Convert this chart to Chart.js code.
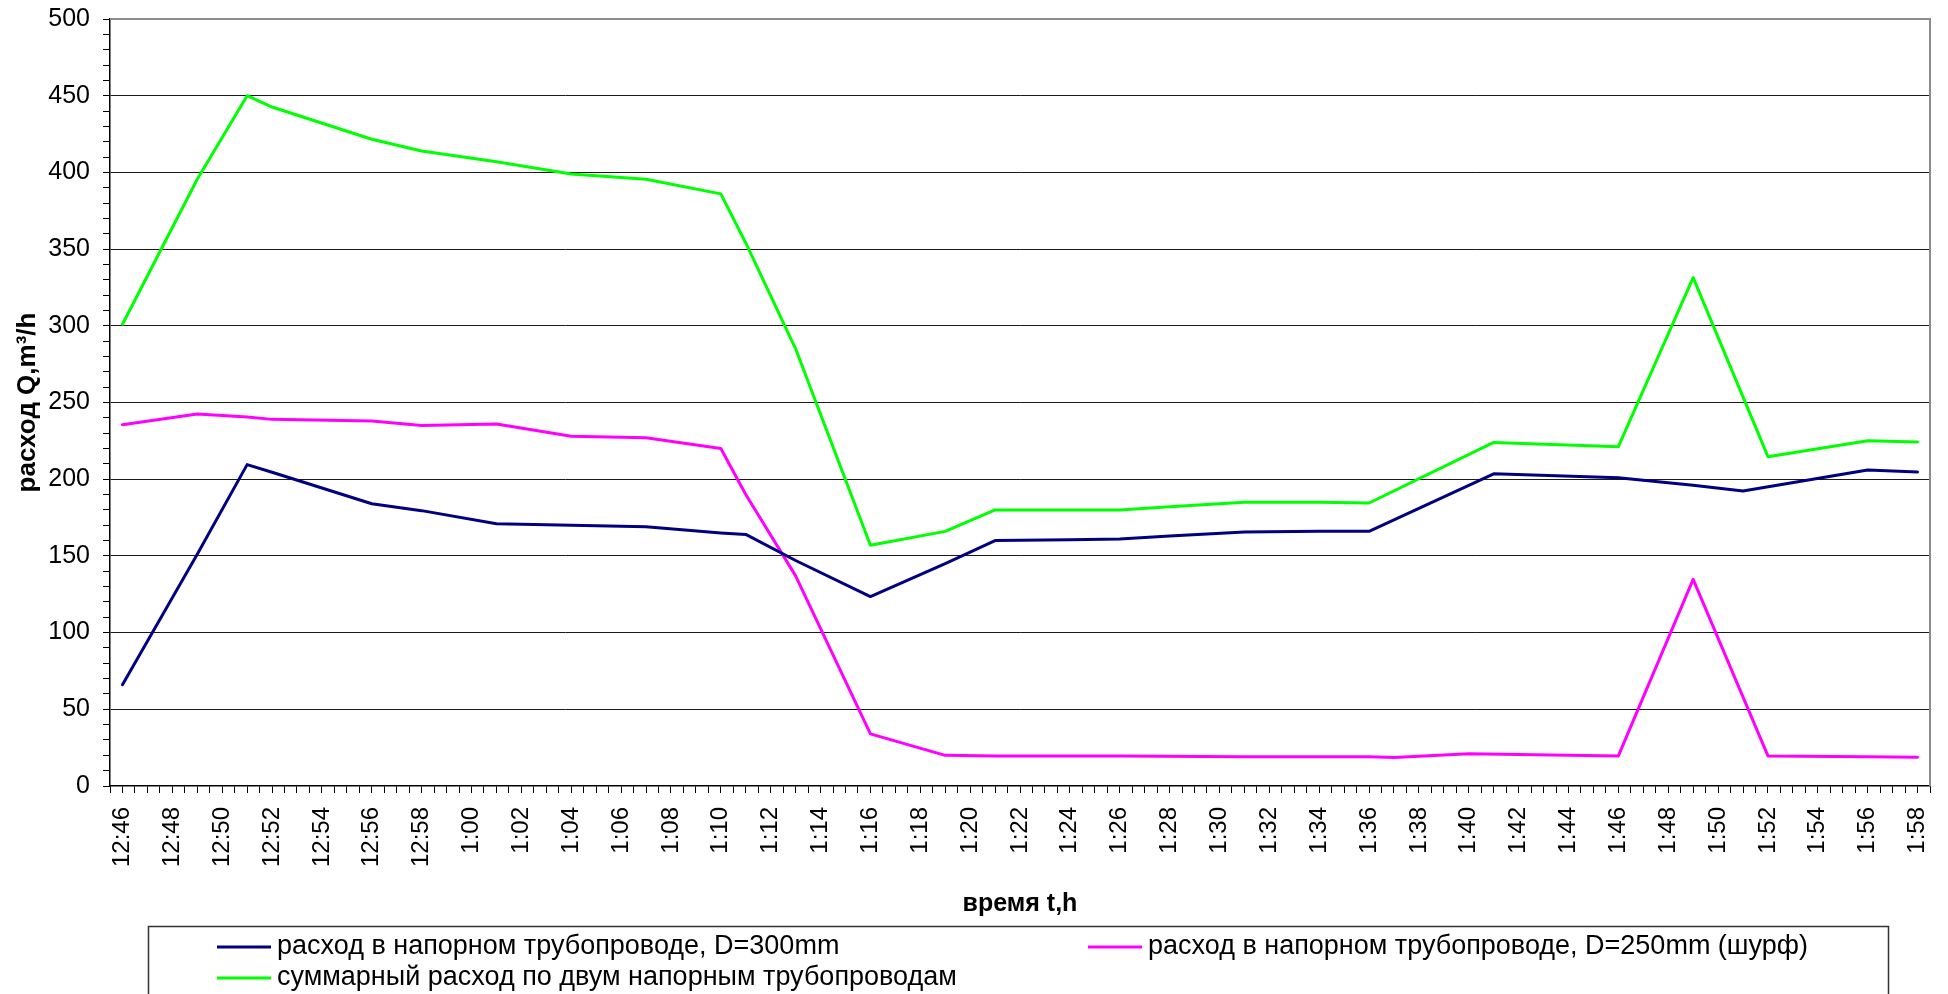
<!DOCTYPE html>
<html>
<head>
<meta charset="utf-8">
<script src="https://cdn.jsdelivr.net/npm/chart.js@4.4.1/dist/chart.umd.min.js"></script>
<style>
  html, body { margin: 0; padding: 0; background: #fff; }
  #wrap { width: 1948px; height: 994px; position: relative; }
</style>
</head>
<body>
<div id="wrap"><canvas id="chart" width="1948" height="994"></canvas></div>
<script>
// Measurement times (12-hour clock) and flow rates, m3/h
const timesD300 = ['12:46','12:49','12:51','12:52','12:56','12:58','1:01','1:04','1:07','1:10','1:11','1:13','1:16','1:19','1:21','1:24','1:26','1:28','1:31','1:34','1:36','1:41','1:46','1:49','1:51','1:56','1:58'];
const flowD300  = [66, 151, 209.5, 204.5, 184, 179.5, 171, 170, 169, 165, 164, 147, 123.5, 145, 160, 160.5, 161, 163, 165.5, 166, 166, 203.5, 201, 196, 192.3, 206, 204.7];

const timesD250 = ['12:46','12:49','12:51','12:52','12:56','12:58','1:01','1:04','1:07','1:10','1:11','1:13','1:16','1:19','1:21','1:26','1:31','1:36','1:37','1:40','1:46','1:49','1:52','1:56','1:58'];
const flowD250  = [235.5, 242.5, 240.5, 239, 238, 235, 236, 228, 227, 220, 190, 137, 34, 20, 19.5, 19.5, 19, 19, 18.5, 21, 19.6, 134.7, 19.6, 19, 18.7];

const timesTotal = ['12:46','12:49','12:51','12:52','12:56','12:58','1:01','1:04','1:07','1:10','1:11','1:13','1:16','1:19','1:21','1:26','1:28','1:31','1:34','1:36','1:41','1:46','1:49','1:52','1:56','1:58'];
const flowTotal  = [301, 395.5, 450, 442.6, 421.6, 414, 407, 399, 395.5, 386, 354, 285, 157, 166, 180, 180, 182, 185, 185, 184.5, 224, 221.2, 331.4, 214.7, 225.1, 224.3];

const seriesLabels = [
  'расход в напорном трубопроводе, D=300mm',
  'расход в напорном трубопроводе, D=250mm (шурф)',
  'суммарный расход по двум напорным трубопроводам'
];
const yTitle = 'расход Q,m³/h';
const xTitle = 'время t,h';

// minutes counted from 12:00
function toMinutes(t) {
  const [h, m] = t.split(':').map(Number);
  return (h % 12) * 60 + m;
}
function fmtTime(v) {
  const h = Math.floor(v / 60);
  const m = Math.round(v - h * 60);
  return (h === 0 ? 12 : h) + ':' + String(m).padStart(2, '0');
}
function points(ts, vs) { return ts.map((t, i) => ({ x: toMinutes(t), y: vs[i] })); }

const X_MIN = 45.5, X_MAX = 118.5;
const FONT = "'Liberation Sans', Arial, sans-serif";
Chart.defaults.font.family = FONT;
Chart.defaults.color = '#000';

// gray frame on top and right of the plot area
const frame = {
  id: 'frame',
  beforeDatasetsDraw(chart) {
    const { ctx, chartArea: a } = chart;
    ctx.save();
    ctx.strokeStyle = '#8c8c8c';
    ctx.lineWidth = 2;
    ctx.beginPath();
    ctx.moveTo(a.left, a.top);
    ctx.lineTo(a.right, a.top);
    ctx.lineTo(a.right, a.bottom);
    ctx.stroke();
    ctx.restore();
  }
};

// boxed legend below the axis title
const boxLegend = {
  id: 'boxLegend',
  afterDraw(chart) {
    const { ctx } = chart;
    const ds = chart.data.datasets;
    const slots = [
      { x: 217, y: 947 },
      { x: 1088, y: 947 },
      { x: 217, y: 978 }
    ];
    ctx.save();
    ctx.strokeStyle = '#333';
    ctx.lineWidth = 1.5;
    ctx.strokeRect(148.5, 926.5, 1740, 120);
    ctx.font = '27px ' + FONT;
    ctx.textBaseline = 'middle';
    ctx.textAlign = 'left';
    ds.forEach((d, i) => {
      const s = slots[i];
      ctx.strokeStyle = d.borderColor;
      ctx.lineWidth = 3;
      ctx.beginPath();
      ctx.moveTo(s.x, s.y);
      ctx.lineTo(s.x + 54, s.y);
      ctx.stroke();
      ctx.fillStyle = '#000';
      ctx.fillText(d.label, s.x + 60, s.y);
    });
    ctx.restore();
  }
};

new Chart(document.getElementById('chart'), {
  type: 'line',
  data: {
    datasets: [
      { label: seriesLabels[0], data: points(timesD300, flowD300), borderColor: '#000080' },
      { label: seriesLabels[1], data: points(timesD250, flowD250), borderColor: '#ff00ff' },
      { label: seriesLabels[2], data: points(timesTotal, flowTotal), borderColor: '#00ff00' }
    ]
  },
  options: {
    responsive: false,
    animation: false,
    devicePixelRatio: 1,
    layout: { padding: { left: 0, right: 18, top: 19, bottom: 69 } },
    elements: {
      line: { borderWidth: 3, tension: 0, fill: false, borderCapStyle: 'round', borderJoinStyle: 'round' },
      point: { radius: 0, hoverRadius: 0 }
    },
    plugins: { legend: { display: false }, tooltip: { enabled: false } },
    scales: {
      x: {
        type: 'linear',
        min: X_MIN,
        max: X_MAX,
        afterBuildTicks(scale) {
          const t = [];
          for (let v = X_MIN; v <= X_MAX + 1e-9; v += 0.5) t.push({ value: v });
          scale.ticks = t;
        },
        afterFit(scale) {
          scale.height = 139;
          scale.paddingLeft = 0;
          scale.paddingRight = 0;
        },
        ticks: {
          autoSkip: false,
          minRotation: 90,
          maxRotation: 90,
          padding: 14,
          font: { size: 24 },
          color: '#000',
          callback(v) {
            return (Number.isInteger(v) && (v - 46) % 2 === 0) ? fmtTime(v) : '';
          }
        },
        grid: { drawOnChartArea: false, drawTicks: true, tickLength: 7, tickColor: '#000', lineWidth: 1 },
        border: { display: true, color: '#000', width: 1.5 },
        title: { display: true, text: xTitle, font: { size: 25, weight: 'bold' }, color: '#000', padding: { top: 0, bottom: 6 } }
      },
      y: {
        min: 0,
        max: 500,
        afterBuildTicks(scale) {
          const t = [];
          for (let v = 0; v <= 500; v += 10) t.push({ value: v });
          scale.ticks = t;
        },
        afterFit(scale) {
          scale.width = 110;
          scale.paddingTop = 0;
          scale.paddingBottom = 0;
        },
        ticks: {
          autoSkip: false,
          padding: 13,
          font: { size: 25 },
          color: '#000',
          callback(v) { return v % 50 === 0 ? String(v) : ''; }
        },
        grid: {
          drawTicks: true,
          tickLength: 7,
          tickColor: '#000',
          lineWidth: 1,
          color(ctx) {
            const v = ctx.tick ? ctx.tick.value : 0;
            return (v % 50 === 0 && v !== 0 && v !== 500) ? '#1a1a1a' : 'rgba(0,0,0,0)';
          }
        },
        border: { display: true, color: '#000', width: 1.5 },
        title: { display: true, text: yTitle, font: { size: 26, weight: 'bold' }, color: '#000', padding: { top: 12, bottom: 0 } }
      }
    }
  },
  plugins: [frame, boxLegend]
});
</script>
</body>
</html>
